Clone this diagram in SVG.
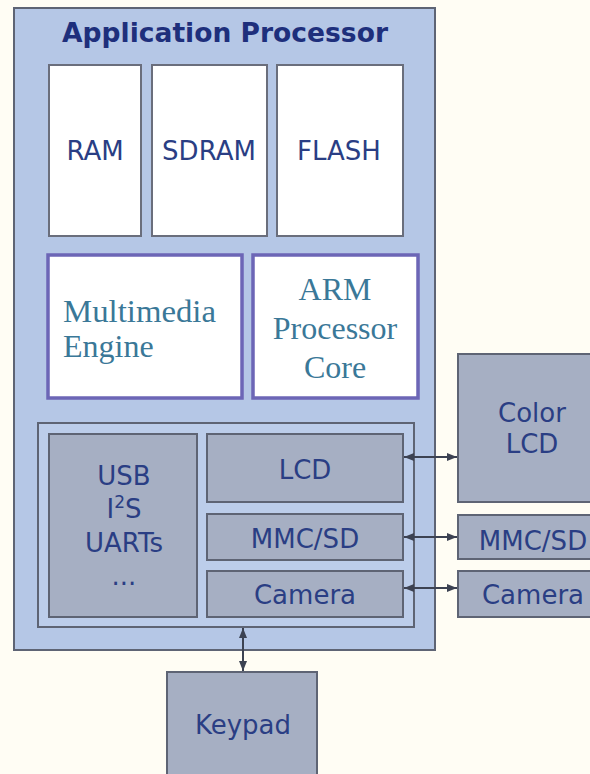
<svg xmlns="http://www.w3.org/2000/svg" width="590" height="774" viewBox="0 0 590 774">
<defs>
<style>
.sans{font-family:"DejaVu Sans","Liberation Sans",sans-serif;font-size:26px;fill:#2A3E84;text-anchor:middle}
.serif{font-family:"Liberation Serif","DejaVu Serif",serif;font-size:32px;fill:#3A7898}
.gray{fill:#A6AFC3;stroke:#5E6474;stroke-width:2}
.white{fill:#FFFFFF;stroke:#6A6E7C;stroke-width:2}
.purple{fill:#FFFFFF;stroke:#6C66B6;stroke-width:3.5}
.conn{stroke:#3C4252;stroke-width:2;fill:none}
</style>
<marker id="ah" viewBox="0 0 10 8" refX="10" refY="4" markerWidth="10" markerHeight="8" markerUnits="userSpaceOnUse" orient="auto-start-reverse">
<path d="M0,0 L10,4 L0,8 z" fill="#3C4252"/>
</marker>
</defs>
<rect x="0" y="0" width="590" height="774" fill="#FFFDF4"/>
<g id="application-processor">
<rect x="14" y="8" width="421" height="642" fill="#B5C7E6" stroke="#5E6474" stroke-width="2"/>
<text x="225" y="42" font-family="DejaVu Sans, Liberation Sans, sans-serif" font-size="26" font-weight="bold" fill="#1E2F7C" text-anchor="middle" textLength="326" lengthAdjust="spacingAndGlyphs">Application Processor</text>
</g>
<g id="ram"><rect class="white" x="49" y="65" width="92" height="171"/><text class="sans" x="95" y="160">RAM</text></g>
<g id="sdram"><rect class="white" x="152" y="65" width="115" height="171"/><text class="sans" x="209" y="160">SDRAM</text></g>
<g id="flash"><rect class="white" x="277" y="65" width="126" height="171"/><text class="sans" x="339" y="160">FLASH</text></g>
<g id="multimedia-engine"><rect class="purple" x="48" y="255" width="194" height="143"/><text class="serif" x="63" y="322" textLength="153" lengthAdjust="spacingAndGlyphs">Multimedia</text><text class="serif" x="63" y="357">Engine</text></g>
<g id="arm-core"><rect class="purple" x="253" y="255" width="165" height="143"/><text class="serif" x="335" y="300" text-anchor="middle">ARM</text><text class="serif" x="335" y="339" text-anchor="middle">Processor</text><text class="serif" x="335" y="378" text-anchor="middle">Core</text></g>
<g id="peripherals"><rect x="38" y="423" width="376" height="204" fill="#BCCDEA" stroke="#5E6474" stroke-width="2"/></g>
<g id="usb-i2s-uarts"><rect class="gray" x="49" y="434" width="148" height="183"/>
<text class="sans" x="124" y="485">USB</text>
<text class="sans" x="124" y="518">I<tspan font-size="17" dy="-10">2</tspan><tspan dy="10">S</tspan></text>
<text class="sans" x="124" y="552">UARTs</text>
<text class="sans" x="124" y="585">...</text></g>
<g id="lcd"><rect class="gray" x="207" y="434" width="196" height="68"/><text class="sans" x="305" y="479">LCD</text></g>
<g id="mmc-sd"><rect class="gray" x="207" y="514" width="196" height="46"/><text class="sans" x="305" y="548">MMC/SD</text></g>
<g id="camera"><rect class="gray" x="207" y="571" width="196" height="46"/><text class="sans" x="305" y="604">Camera</text></g>
<g id="color-lcd"><rect class="gray" x="458" y="354" width="150" height="148"/><text class="sans" x="532" y="422">Color</text><text class="sans" x="532" y="453">LCD</text></g>
<g id="ext-mmc-sd"><rect class="gray" x="458" y="515" width="150" height="44"/><text class="sans" x="533" y="550">MMC/SD</text></g>
<g id="ext-camera"><rect class="gray" x="458" y="571" width="150" height="46"/><text class="sans" x="533" y="604">Camera</text></g>
<g id="keypad"><rect class="gray" x="167" y="672" width="150" height="120"/><text class="sans" x="243" y="734">Keypad</text></g>
<g id="connectors">
<line class="conn" x1="404" y1="457" x2="457" y2="457" marker-start="url(#ah)" marker-end="url(#ah)"/>
<line class="conn" x1="404" y1="537" x2="457" y2="537" marker-start="url(#ah)" marker-end="url(#ah)"/>
<line class="conn" x1="404" y1="588" x2="457" y2="588" marker-start="url(#ah)" marker-end="url(#ah)"/>
<line class="conn" x1="243" y1="628" x2="243" y2="671" marker-start="url(#ah)" marker-end="url(#ah)"/>
</g>
</svg>
